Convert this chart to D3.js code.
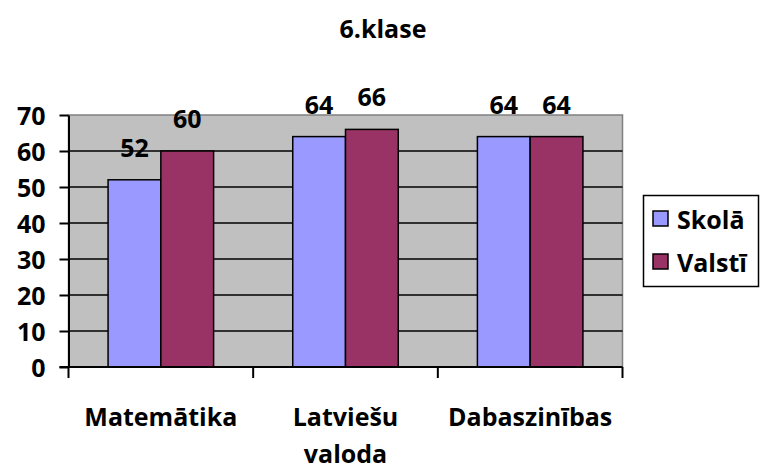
<head>
    <meta charset="utf-8">
    <style> body { margin: 0; background: #fff; } text { font-family: "Open Sans", "Noto Sans", sans-serif; font-weight: bold; } </style>
    <script src="https://cdnjs.cloudflare.com/ajax/libs/d3/7.8.5/d3.min.js"></script>
</head>
<body>
    <div id="chart"></div>
    <script>
        var categories = ["Matemātika", "Latviešu valoda", "Dabaszinības"];
        var series = ["Skolā", "Valstī"];
        var skola = [52, 64, 64];
        var valsti = [60, 66, 64];
        var yTicks = [0, 10, 20, 30, 40, 50, 60, 70];
        var colors = ["#9999FF", "#993366"];

        var W = 762, H = 469;
        var fs = 25;

        var svg = d3.select("#chart").append("svg")
            .attr("width", W)
            .attr("height", H);

        var x0 = d3.scaleBand()
            .domain(categories)
            .range([68.5, 622.5]);

        var x1 = d3.scaleBand()
            .domain(series)
            .range([0, x0.bandwidth()])
            .paddingInner(0)
            .paddingOuter(0.75);

        var y = d3.scaleLinear()
            .domain([0, 70])
            .range([367, 115]);

        // title
        svg.append("text")
            .attr("x", 383)
            .attr("y", 38)
            .attr("text-anchor", "middle")
            .style("font-size", fs + "px")
            .text("6.klase");

        // plot area
        svg.append("rect")
            .attr("x", x0.range()[0])
            .attr("y", y(70))
            .attr("width", x0.range()[1] - x0.range()[0])
            .attr("height", y(0) - y(70))
            .attr("fill", "#C0C0C0")
            .attr("stroke", "#808080")
            .attr("stroke-width", 1.5);

        // gridlines
        svg.append("g")
            .selectAll("line")
            .data(yTicks.filter(d => d > 0 && d < 70))
            .join("line")
            .attr("x1", x0.range()[0])
            .attr("x2", x0.range()[1])
            .attr("y1", d => y(d))
            .attr("y2", d => y(d))
            .attr("stroke", "#000")
            .attr("stroke-width", 1.5);

        // y axis
        var yAxis = svg.append("g")
            .attr("transform", "translate(" + x0.range()[0] + ",0)")
            .call(d3.axisLeft(y).tickValues(yTicks).tickSize(9).tickPadding(14).tickSizeOuter(0));
        yAxis.select(".domain").attr("stroke", "#000").attr("stroke-width", 2);
        yAxis.selectAll(".tick line").attr("stroke", "#000").attr("stroke-width", 2);
        yAxis.selectAll(".tick text")
            .attr("fill", "#000")
            .attr("dy", "0.36em")
            .style("font-size", fs + "px")
            .style("font-family", "'Open Sans', sans-serif")
            .style("font-weight", "bold");

        // bars
        var data = categories.map((c, i) => ({ cat: c, vals: [skola[i], valsti[i]] }));
        var groups = svg.append("g")
            .selectAll("g")
            .data(data)
            .join("g")
            .attr("transform", d => "translate(" + x0(d.cat) + ",0)");

        groups.selectAll("rect")
            .data(d => d.vals.map((v, j) => ({ s: series[j], v: v, j: j })))
            .join("rect")
            .attr("x", d => x1(d.s))
            .attr("y", d => y(d.v))
            .attr("width", x1.bandwidth())
            .attr("height", d => y(0) - y(d.v))
            .attr("fill", d => colors[d.j])
            .attr("stroke", "#000")
            .attr("stroke-width", 1.5);

        groups.selectAll("text")
            .data(d => d.vals.map((v, j) => ({ s: series[j], v: v, j: j })))
            .join("text")
            .attr("x", d => x1(d.s) + x1.bandwidth() / 2)
            .attr("y", d => y(d.v) - 23)
            .attr("text-anchor", "middle")
            .style("font-size", fs + "px")
            .text(d => d.v);

        // x axis
        svg.append("line")
            .attr("x1", x0.range()[0] - 9)
            .attr("x2", x0.range()[1])
            .attr("y1", y(0))
            .attr("y2", y(0))
            .attr("stroke", "#000")
            .attr("stroke-width", 2);

        var bounds = categories.map(c => x0(c)).concat([x0.range()[1]]);
        svg.append("g")
            .selectAll("line")
            .data(bounds)
            .join("line")
            .attr("x1", d => d)
            .attr("x2", d => d)
            .attr("y1", y(0))
            .attr("y2", y(0) + 11)
            .attr("stroke", "#000")
            .attr("stroke-width", 2);

        var catLabels = svg.append("g")
            .selectAll("text")
            .data(categories)
            .join("text")
            .attr("x", d => x0(d) + x0.bandwidth() / 2)
            .attr("y", 426)
            .attr("text-anchor", "middle")
            .style("font-size", fs + "px");
        catLabels.each(function(d) {
            var parts = d.split(" ");
            var t = d3.select(this);
            parts.forEach((p, i) => {
                t.append("tspan")
                    .attr("x", x0(d) + x0.bandwidth() / 2)
                    .attr("dy", i === 0 ? 0 : 37)
                    .text(p);
            });
        });

        // legend
        var legend = svg.append("g");
        legend.append("rect")
            .attr("x", 643.5)
            .attr("y", 195.5)
            .attr("width", 115)
            .attr("height", 91)
            .attr("fill", "#fff")
            .attr("stroke", "#000")
            .attr("stroke-width", 1.5);

        var items = legend.selectAll("g.item")
            .data(series)
            .join("g")
            .attr("class", "item")
            .attr("transform", (d, i) => "translate(653," + (211 + i * 43) + ")");
        items.append("rect")
            .attr("width", 15)
            .attr("height", 15)
            .attr("fill", (d, i) => colors[i])
            .attr("stroke", "#000")
            .attr("stroke-width", 1.5);
        items.append("text")
            .attr("x", 24)
            .attr("y", 18)
            .style("font-size", fs + "px")
            .text(d => d);
    </script>
</body>
